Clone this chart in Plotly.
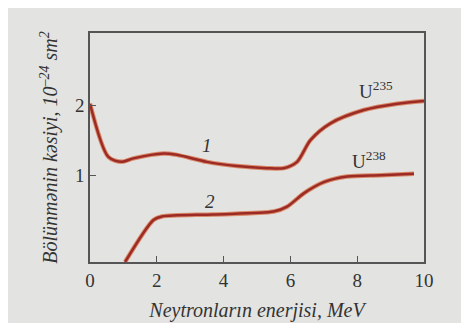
import plotly.graph_objects as go

# U-235 (curve 1)
x1 = [0.0, 0.55, 0.95, 1.3, 2.2, 2.6, 3.5, 4.4, 5.3, 5.8, 6.2, 6.6, 7.2, 8.2, 9.2, 10.0]
y1 = [2.02, 1.26, 1.19, 1.24, 1.31, 1.29, 1.19, 1.13, 1.10, 1.10, 1.19, 1.50, 1.74, 1.93, 2.02, 2.06]
# U-238 (curve 2)
x2 = [1.05, 1.9, 2.15, 3.7, 5.5, 5.9, 6.4, 7.0, 7.7, 8.7, 9.7]
y2 = [-0.24, 0.36, 0.41, 0.44, 0.48, 0.55, 0.74, 0.90, 0.98, 1.00, 1.02]

x_ticks = [0, 2, 4, 6, 8, 10]
y_ticks = [1, 2]

line_color = "#9c2b25"
bg = "#e3e3e1"
serif = "'Times New Roman', 'Liberation Serif', serif"

fig = go.Figure()
for xs, ys in [(x1, y1), (x2, y2)]:
    fig.add_trace(go.Scatter(x=xs, y=ys, mode="lines",
                             line=dict(color="#d98a6a", width=4.5, shape="spline", smoothing=0.8),
                             hoverinfo="skip", showlegend=False))
    fig.add_trace(go.Scatter(x=xs, y=ys, mode="lines",
                             line=dict(color=line_color, width=2.5, shape="spline", smoothing=0.8),
                             showlegend=False))

annots = [
    dict(x=3.5, y=1.43, text="<i>1</i>"),
    dict(x=3.6, y=0.62, text="<i>2</i>"),
    dict(x=8.55, y=2.22, text="U<sup>235</sup>"),
    dict(x=8.35, y=1.22, text="U<sup>238</sup>"),
]
for a in annots:
    fig.add_annotation(x=a["x"], y=a["y"], text=a["text"], showarrow=False,
                       font=dict(family=serif, size=19, color="#333333"))

fig.update_layout(
    width=461, height=315,
    margin=dict(l=82, r=45, t=25, b=61),
    paper_bgcolor=bg, plot_bgcolor=bg,
    font=dict(family=serif, size=18, color="#333333"),
)
fig.update_xaxes(range=[0, 10], tickvals=x_ticks, ticks="inside", ticklen=6,
                 automargin=False,
                 tickcolor="#555555", showgrid=False, zeroline=False,
                 tickfont=dict(family=serif, size=19),
                 showline=True, linecolor="#555555", linewidth=1.5, mirror=True,
                 title=dict(text="<i>Neytronların enerjisi, MeV</i>", standoff=13,
                            font=dict(family=serif, size=20)))
fig.update_yaxes(range=[-0.24, 3.03], tickvals=y_ticks, ticks="inside", ticklen=6,
                 automargin=False,
                 tickcolor="#555555", showgrid=False, zeroline=False,
                 tickfont=dict(family=serif, size=19),
                 showline=True, linecolor="#555555", linewidth=1.5, mirror=True,
                 title=dict(text="<i>Bölünmənin kəsiyi, 10<sup>–24</sup> sm<sup>2</sup></i>", standoff=12,
                            font=dict(family=serif, size=20)))

fig.write_html("out.html")
